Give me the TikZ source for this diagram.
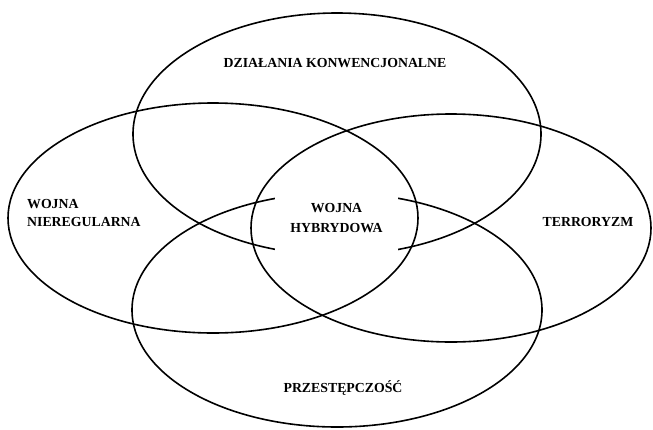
\documentclass[tikz,border=0pt]{standalone}
\usepackage{fontspec}
\setmainfont{Liberation Serif}[BoldFont={Liberation Serif Bold}]
\usepackage{tikz}
\usetikzlibrary{positioning}

\begin{document}
\begin{tikzpicture}[
    x=1pt, y=-1pt,
    ring/.style={line width=1.6pt, draw=black},
    label/.style={font=\fontsize{13.8}{17.7}\selectfont\bfseries,
      inner sep=0pt, align=left},
    core/.style={font=\fontsize{13.8}{20.7}\selectfont\bfseries,
      fill=white, align=center, inner sep=0pt,
      minimum width=123pt, minimum height=86pt},
]
\useasboundingbox (0,0) rectangle (653,429);
% Sets
\draw[ring] (337,134) ellipse (204 and 121);
\draw[ring] (213,218) ellipse (205 and 115);
\draw[ring] (451,228) ellipse (200 and 114);
\draw[ring] (337,310) ellipse (205 and 117);
% Labels
\node[label] (konw) at (335,63) {DZIAŁANIA KONWENCJONALNE};
\node[label, anchor=west] (niereg) at (27,213) {WOJNA\\NIEREGULARNA};
\node[label] (terror) at (588,222) {TERRORYZM};
\node[label] (przest) at (343,388) {PRZESTĘPCZOŚĆ};
\node[core] (hybryd) at (336.5,218) {WOJNA\\HYBRYDOWA};
\end{tikzpicture}
\end{document}
